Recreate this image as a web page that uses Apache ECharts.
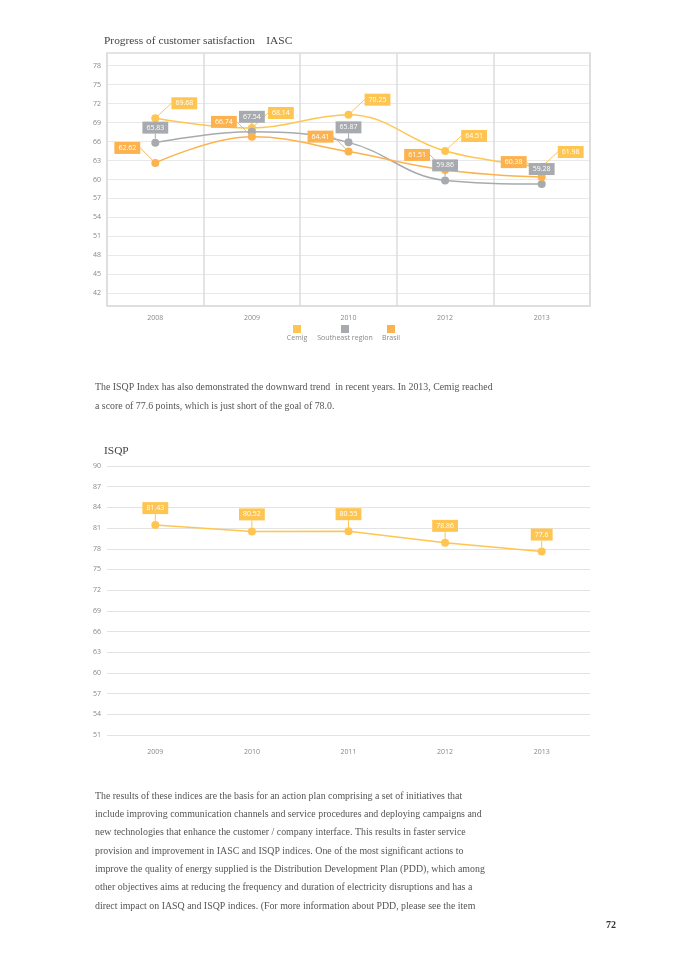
<!DOCTYPE html>
<html>
<head>
<meta charset="utf-8">
<script src="https://cdn.jsdelivr.net/npm/echarts@6/dist/echarts.min.js"></script>
<style>
html,body{margin:0;padding:0;background:#fff;}
#page{width:680px;height:962px;}
</style>
</head>
<body>
<div id="page"></div>
<script>
// ---- data ----
const iascYears = ['2008', '2009', '2010', '2012', '2013'];
const cemigIasc = [69.68, 68.14, 70.25, 64.51, 61.98];
const southeastIasc = [65.83, 67.54, 65.87, 59.86, 59.28];
const brasilIasc = [62.62, 66.74, 64.41, 61.51, 60.38];
const iascTicks = [42, 45, 48, 51, 54, 57, 60, 63, 66, 69, 72, 75, 78];

const isqpYears = ['2009', '2010', '2011', '2012', '2013'];
const cemigIsqp = [81.43, 80.52, 80.55, 78.86, 77.6];

const seriesNames = ['Cemig', 'Southeast region', 'Brasil'];

const para1 = [
  'The ISQP Index has also demonstrated the downward trend  in recent years. In 2013, Cemig reached',
  'a score of 77.6 points, which is just short of the goal of 78.0.'
];
const para2 = [
  'The results of these indices are the basis for an action plan comprising a set of initiatives that',
  'include improving communication channels and service procedures and deploying campaigns and',
  'new technologies that enhance the customer / company interface. This results in faster service',
  'provision and improvement in IASC and ISQP indices. One of the most significant actions to',
  'improve the quality of energy supplied is the Distribution Development Plan (PDD), which among',
  'other objectives aims at reducing the frequency and duration of electricity disruptions and has a',
  'direct impact on IASQ and ISQP indices. (For more information about PDD, please see the item'
];

// ---- styles ----
const C_CEMIG = '#FFC552';
const C_SE = '#A7AAAE';
const C_BRASIL = '#FBB24F';
const AX_FONT = 'Open Sans';
const SERIF = '"Liberation Serif", "DejaVu Serif", serif';

function lbl(color, dx, dist) {
  return {
    label: {
      show: true, position: 'top', distance: dist,
      color: '#fff', fontSize: 7, fontFamily: AX_FONT, lineHeight: 8,
      backgroundColor: color, padding: [2, 4, 2, 4]
    },
    labelLayout: { dx: dx },
    labelLine: { show: true, lineStyle: { color: color, width: 1 } }
  };
}

const chart = echarts.init(document.getElementById('page'), null, { renderer: 'canvas' });

const graphics = [];
function addText(text, x, y, opts) {
  graphics.push({
    type: 'text', left: x, top: y, silent: true,
    style: Object.assign({ text: text, fill: '#555', font: '9.9px ' + SERIF }, opts || {})
  });
}
addText('Progress of customer satisfaction    IASC', 104, 36, { font: '11.4px ' + SERIF, fill: '#444' });
addText('ISQP', 104, 446, { font: '11.4px ' + SERIF, fill: '#444' });
para1.forEach((t, i) => addText(t, 95, 382 + i * 19));
para2.forEach((t, i) => addText(t, 95, 791 + i * 18.35));
addText('72', 606, 920, { font: 'bold 10px ' + SERIF, fill: '#333' });
// legend names under icons
const legendCenters = [297, 345, 391];
seriesNames.forEach((n, i) => {
  graphics.push({
    type: 'text', x: legendCenters[i], y: 338, silent: true,
    style: { text: n, fill: '#888', fontSize: 7, fontFamily: AX_FONT, align: 'center', verticalAlign: 'middle' }
  });
});

const legendColors = [C_CEMIG, C_SE, C_BRASIL];
const legends = seriesNames.map((n, i) => ({
  data: [n], left: legendCenters[i] - 4, top: 325, itemWidth: 8, itemHeight: 8,
  icon: 'rect', padding: 0, formatter: () => '', textStyle: { fontSize: 1 }
}));

const option = {
  animation: false,
  backgroundColor: '#fff',
  color: legendColors,
  legend: legends,
  graphic: graphics,
  grid: [
    { left: 107, top: 53, width: 483, height: 253, show: true, borderColor: '#dcdcdc', borderWidth: 1.5 },
    { left: 107, top: 466, width: 483, height: 269 }
  ],
  xAxis: [
    {
      gridIndex: 0, type: 'category', data: iascYears, boundaryGap: true,
      axisLine: { show: true, lineStyle: { color: '#dcdcdc', width: 1.5 } },
      axisTick: { show: false },
      axisLabel: { color: '#888', fontSize: 7, fontFamily: AX_FONT, margin: 8 },
      splitLine: { show: true, lineStyle: { color: '#dcdcdc', width: 1.5 } }
    },
    {
      gridIndex: 1, type: 'category', data: isqpYears, boundaryGap: true,
      axisLine: { show: false }, axisTick: { show: false },
      axisLabel: { color: '#888', fontSize: 7, fontFamily: AX_FONT, margin: 13 },
      splitLine: { show: false }
    }
  ],
  yAxis: [
    {
      gridIndex: 0, type: 'value', min: 40, max: 80,
      axisLine: { show: false },
      axisTick: { show: false, customValues: iascTicks },
      axisLabel: { color: '#888', fontSize: 7, fontFamily: AX_FONT, margin: 6, customValues: iascTicks },
      splitLine: { show: true, lineStyle: { color: '#e8e8e8', width: 1 } }
    },
    {
      gridIndex: 1, type: 'value', min: 51, max: 90, interval: 3,
      axisLine: { show: false }, axisTick: { show: false },
      axisLabel: { color: '#888', fontSize: 7, fontFamily: AX_FONT, margin: 6 },
      splitLine: { show: true, lineStyle: { color: '#e3e3e3', width: 1 } }
    }
  ],
  series: [
    Object.assign({
      name: 'Cemig', type: 'line', xAxisIndex: 0, yAxisIndex: 0, data: cemigIasc, smooth: 0.4,
      symbol: 'circle', symbolSize: 8, lineStyle: { width: 1.5, color: C_CEMIG },
      itemStyle: { color: C_CEMIG }
    }, lbl(C_CEMIG, 29, 5)),
    Object.assign({
      name: 'Southeast region', type: 'line', xAxisIndex: 0, yAxisIndex: 0, data: southeastIasc, smooth: 0.4,
      symbol: 'circle', symbolSize: 8, lineStyle: { width: 1.5, color: C_SE },
      itemStyle: { color: C_SE }
    }, lbl(C_SE, 0, 5)),
    Object.assign({
      name: 'Brasil', type: 'line', xAxisIndex: 0, yAxisIndex: 0, data: brasilIasc, smooth: 0.4,
      symbol: 'circle', symbolSize: 8, lineStyle: { width: 1.5, color: C_BRASIL },
      itemStyle: { color: C_BRASIL }
    }, lbl(C_BRASIL, -28, 5)),
    Object.assign({
      name: 'ISQP', type: 'line', xAxisIndex: 1, yAxisIndex: 1, data: cemigIsqp, smooth: false,
      symbol: 'circle', symbolSize: 8, lineStyle: { width: 1.5, color: C_CEMIG },
      itemStyle: { color: C_CEMIG }
    }, lbl(C_CEMIG, 0, 7))
  ]
};
chart.setOption(option);
</script>
</body>
</html>
